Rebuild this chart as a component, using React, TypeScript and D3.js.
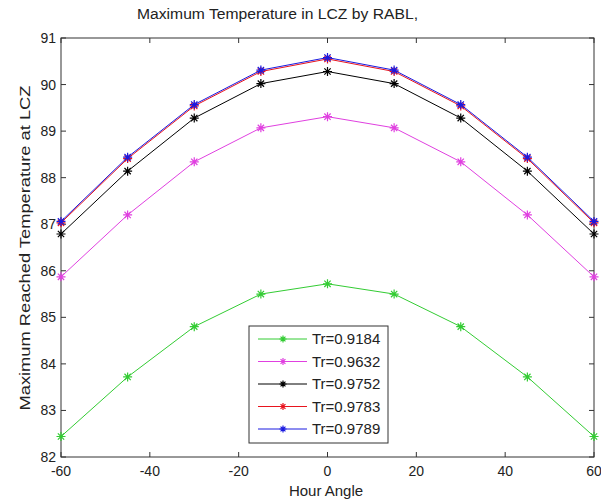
import React, { useEffect, useRef } from "react";
import * as d3 from "d3";

const hourAngles = [-60, -45, -30, -15, 0, 15, 30, 45, 60];
const seriesNames = ["Tr=0.9184", "Tr=0.9632", "Tr=0.9752", "Tr=0.9783", "Tr=0.9789"];
const seriesColors = ["#33cc33", "#e040e0", "#000000", "#e8141e", "#1a1ae0"];
const tr9184 = [82.44, 83.72, 84.8, 85.5, 85.72, 85.5, 84.8, 83.72, 82.44];
const tr9632 = [85.87, 87.2, 88.34, 89.07, 89.31, 89.07, 88.34, 87.2, 85.87];
const tr9752 = [86.79, 88.14, 89.28, 90.02, 90.28, 90.02, 89.28, 88.14, 86.79];
const tr9783 = [87.03, 88.41, 89.54, 90.28, 90.55, 90.28, 89.54, 88.41, 87.03];
const tr9789 = [87.06, 88.44, 89.57, 90.31, 90.58, 90.31, 89.57, 88.44, 87.06];
const xTicks = [-60, -40, -20, 0, 20, 40, 60];
const yTicks = [82, 83, 84, 85, 86, 87, 88, 89, 90, 91];

const allSeries = [tr9184, tr9632, tr9752, tr9783, tr9789];

export default function App() {
  const ref = useRef<SVGSVGElement>(null);

  useEffect(() => {
    const svg = d3.select(ref.current);
    svg.selectAll("*").remove();
    const font = "Liberation Sans, Arial, sans-serif";

    const left = 61, right = 594, top = 38, bottom = 457;
    const x = d3.scaleLinear().domain([-60, 60]).range([left, right]);
    const y = d3.scaleLinear().domain([82, 91]).range([bottom, top]);

    svg.append("rect").attr("width", 601).attr("height", 502).attr("fill", "#fff");

    // axes box
    svg.append("rect")
      .attr("x", left).attr("y", top)
      .attr("width", right - left).attr("height", bottom - top)
      .attr("fill", "none").attr("stroke", "#333").attr("stroke-width", 1);

    const tl = 5;
    const g = svg.append("g").attr("stroke", "#333").attr("stroke-width", 1);
    xTicks.forEach((t) => {
      g.append("line").attr("x1", x(t)).attr("x2", x(t)).attr("y1", bottom).attr("y2", bottom - tl);
      g.append("line").attr("x1", x(t)).attr("x2", x(t)).attr("y1", top).attr("y2", top + tl);
    });
    yTicks.forEach((t) => {
      g.append("line").attr("x1", left).attr("x2", left + tl).attr("y1", y(t)).attr("y2", y(t));
      g.append("line").attr("x1", right).attr("x2", right - tl).attr("y1", y(t)).attr("y2", y(t));
    });

    svg.append("g").selectAll("text").data(xTicks).join("text")
      .attr("x", (d) => x(d)).attr("y", 476)
      .attr("text-anchor", "middle")
      .attr("font-family", font).attr("font-size", 14).attr("fill", "#222")
      .text((d) => d);

    svg.append("g").selectAll("text").data(yTicks).join("text")
      .attr("x", 56).attr("y", (d) => y(d) + 5)
      .attr("text-anchor", "end")
      .attr("font-family", font).attr("font-size", 14).attr("fill", "#222")
      .text((d) => d);

    svg.append("text")
      .attr("x", 326).attr("y", 496)
      .attr("text-anchor", "middle")
      .attr("font-family", font).attr("font-size", 15).attr("fill", "#222")
      .text("Hour Angle");

    svg.append("text")
      .attr("transform", `translate(30,248) rotate(-90)`)
      .attr("text-anchor", "middle")
      .attr("font-family", font).attr("font-size", 15).attr("fill", "#222")
      .attr("textLength", 325).attr("lengthAdjust", "spacingAndGlyphs")
      .text("Maximum Reached Temperature at LCZ");

    svg.append("text")
      .attr("x", 277.5).attr("y", 19)
      .attr("text-anchor", "middle")
      .attr("font-family", font).attr("font-size", 14).attr("fill", "#222")
      .attr("textLength", 281).attr("lengthAdjust", "spacingAndGlyphs")
      .text("Maximum Temperature in LCZ by RABL,");

    const line = d3.line<number>()
      .x((d, i) => x(hourAngles[i]))
      .y((d) => y(d));

    const star = (sel: any, cx: number, cy: number, r: number, color: string) => {
      const p = `M${cx - r},${cy}L${cx + r},${cy}M${cx},${cy - r}L${cx},${cy + r}` +
        `M${cx - r * 0.7},${cy - r * 0.7}L${cx + r * 0.7},${cy + r * 0.7}` +
        `M${cx - r * 0.7},${cy + r * 0.7}L${cx + r * 0.7},${cy - r * 0.7}`;
      sel.append("path").attr("d", p).attr("stroke", color).attr("stroke-width", 1.2).attr("fill", "none");
    };

    allSeries.forEach((s, k) => {
      const color = seriesColors[k];
      const sg = svg.append("g");
      sg.append("path").datum(s).attr("d", line)
        .attr("fill", "none").attr("stroke", color).attr("stroke-width", 1);
      s.forEach((v, i) => star(sg, x(hourAngles[i]), y(v), 4.5, color));
    });

    // legend
    const lx = 249, ly = 326, lw = 139, lh = 117;
    svg.append("rect")
      .attr("x", lx).attr("y", ly).attr("width", lw).attr("height", lh)
      .attr("fill", "#fff").attr("stroke", "#333").attr("stroke-width", 1);
    seriesNames.forEach((name, k) => {
      const cy = ly + 13 + k * 22.5;
      const color = seriesColors[k];
      svg.append("line").attr("x1", 258).attr("x2", 307).attr("y1", cy).attr("y2", cy)
        .attr("stroke", color).attr("stroke-width", 1);
      star(svg, 283, cy, 3.5, color);
      svg.append("text")
        .attr("x", 312).attr("y", cy + 5)
        .attr("font-family", font).attr("font-size", 15).attr("fill", "#222")
        .text(name);
    });
  }, []);

  return (
    <svg ref={ref} width={601} height={502} style={{ position: "absolute", left: 0, top: 0 }} />
  );
}
